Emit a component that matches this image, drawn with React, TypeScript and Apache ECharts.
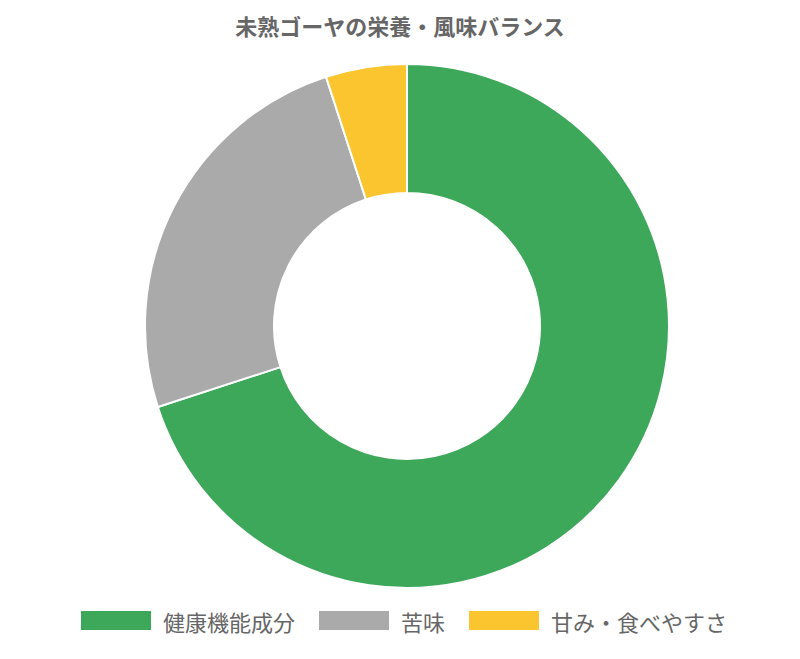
import React, { useRef, useEffect } from 'react';
import * as echarts from 'echarts';

const TITLE = '未熟ゴーヤの栄養・風味バランス';
const CATEGORIES = ['健康機能成分', '苦味', '甘み・食べやすさ'];
const VALUES = [70, 25, 5];
const COLORS = ['#3da75a', '#aaaaaa', '#fbc52f'];

const FONT = '"Noto Sans CJK JP", "Noto Sans", sans-serif';

export default function App() {
  const ref = useRef<HTMLDivElement>(null);

  useEffect(() => {
    if (!ref.current) return;
    const chart = echarts.init(ref.current, undefined, { renderer: 'svg' });
    chart.setOption({
      animation: false,
      backgroundColor: '#ffffff',
      title: {
        text: TITLE,
        left: 'center',
        top: 1,
        textStyle: { fontFamily: FONT, fontSize: 22, fontWeight: 'bold', color: '#666666' },
      },
      legend: {
        bottom: 14,
        left: 66,
        itemWidth: 72,
        itemHeight: 21,
        itemGap: 22,
        icon: 'rect',
        textStyle: { fontFamily: FONT, fontSize: 22, color: '#666666', padding: [0, 0, 0, 6], letterSpacing: 0.5 },
        data: CATEGORIES,
      },
      series: [
        {
          type: 'pie',
          radius: [133, 262],
          center: [399, 318],
          startAngle: 90,
          clockwise: true,
          label: { show: false },
          labelLine: { show: false },
          itemStyle: { borderColor: '#ffffff', borderWidth: 2 },
          data: CATEGORIES.map((name, i) => ({
            name,
            value: VALUES[i],
            itemStyle: { color: COLORS[i] },
          })),
        },
      ],
    });
    return () => chart.dispose();
  }, []);

  return <div ref={ref} style={{ width: 784, height: 643 }} />;
}
